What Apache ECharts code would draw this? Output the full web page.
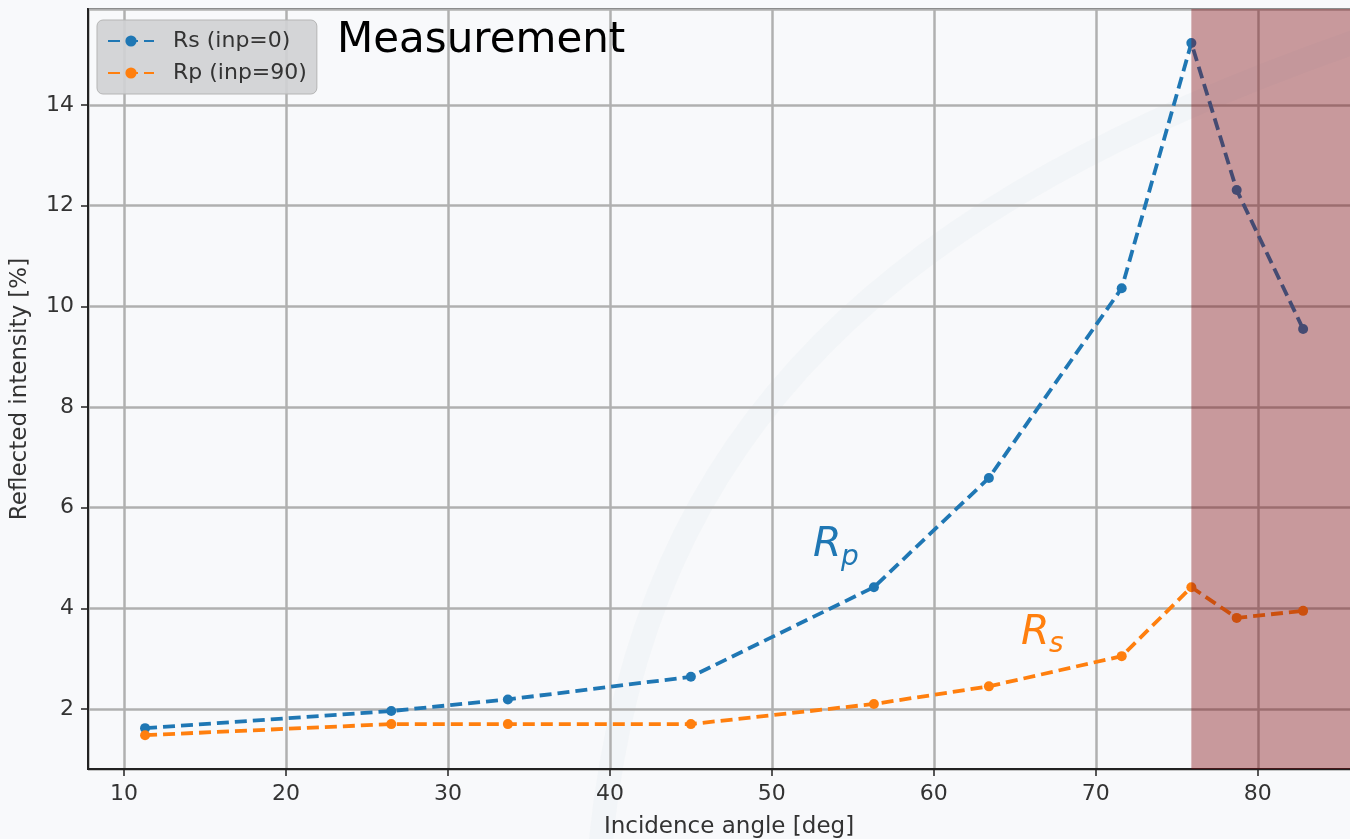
<!DOCTYPE html>
<html><head><meta charset="utf-8">
<style>html,body{margin:0;padding:0;background:#f8f9fb}#c{width:1350px;height:839px}</style>
<script src="https://cdn.jsdelivr.net/npm/echarts@6/dist/echarts.min.js"></script>
</head><body><div id="c"></div><script>
// ---- data ----
const angles = [11.3, 26.5, 33.7, 45.0, 56.3, 63.4, 71.6, 75.9, 78.7, 82.8];
const rsValues = [1.62, 1.96, 2.19, 2.64, 4.42, 6.59, 10.36, 15.23, 12.31, 9.55];
const rpValues = [1.48, 1.70, 1.70, 1.70, 2.10, 2.45, 3.05, 4.42, 3.81, 3.95];
const seriesNames = ['Rs (inp=0)', 'Rp (inp=90)'];
const spanRange = [75.9, 100];
const annotMain = ['R', 'R'];
const annotSub = ['p', 's'];
const annotX = [52.54, 65.38];
const annotY = [4.96, 3.23];
const titleText = 'Measurement';
const xName = 'Incidence angle [deg]';
const yName = 'Reflected intensity [%]';

const FF = 'DejaVu Sans';
const BLUE = '#1f77b4', ORANGE = '#ff7f0e';
const annotColors = [BLUE, ORANGE];
const X_MIN = 7.777, X_MAX = 86.93, Y_MIN = 0.808, Y_MAX = 15.907;

const chart = echarts.init(document.getElementById('c'), null, {renderer: 'canvas'});

function pairs(xs, ys) { return xs.map((x, i) => [x, ys[i]]); }

const lineSeries = (name, vals, color, z) => ({
  name, type: 'line', data: pairs(angles, vals), z,
  symbol: 'circle', symbolSize: 10,
  itemStyle: {color},
  lineStyle: {color, width: 3.8, type: [12, 6]},
  emphasis: {disabled: true}, animation: false
});

const axisCommon = {
  nameLocation: 'middle',
  nameTextStyle: {fontFamily: FF, fontSize: 23, color: '#333'},
  axisLine: {onZero: false, lineStyle: {color: '#222', width: 2}},
  axisTick: {show: true, length: 7, lineStyle: {color: '#222', width: 1.5}},
  axisLabel: {fontFamily: FF, fontSize: 22, color: '#333', margin: 14, showMinLabel: false, showMaxLabel: false},
  splitLine: {show: true, lineStyle: {color: '#b0b0b0', width: 2.5}}
};

chart.setOption({
  animation: false,
  backgroundColor: '#f8f9fb',
  grid: {left: 88, top: 9, width: 1282, bottom: 70, outerBoundsMode: 'none', containLabel: false,
    show: true, borderColor: '#222', borderWidth: 2, backgroundColor: 'transparent'},
  legend: {
    orient: 'vertical', left: 97, top: 20, padding: [10, 10, 10, 10],
    itemWidth: 46, itemHeight: 14, itemGap: 10,
    backgroundColor: 'rgba(208,209,212,0.92)', borderColor: '#b5b5b5', borderWidth: 1, borderRadius: 6,
    textStyle: {fontFamily: FF, fontSize: 22, color: '#333', padding: [0, 0, 0, 14]},
    data: seriesNames
  },
  xAxis: Object.assign({}, axisCommon, {
    type: 'value', min: X_MIN, max: X_MAX, splitNumber: 8, minInterval: 10, maxInterval: 10,
    name: xName, nameGap: 47
  }),
  yAxis: Object.assign({}, axisCommon, {
    type: 'value', min: Y_MIN, max: Y_MAX, splitNumber: 8, minInterval: 2, maxInterval: 2,
    name: yName, nameGap: 56, nameRotate: 90
  }),
  series: [
    lineSeries(seriesNames[0], rsValues, BLUE, 2),
    lineSeries(seriesNames[1], rpValues, ORANGE, 3),
    {
      name: 'span', type: 'custom', z: 20, silent: true,
      data: [spanRange],
      renderItem: function (params, api) {
        const p0 = api.coord([api.value(0), Y_MAX]);
        const p1 = api.coord([api.value(1), Y_MIN]);
        const cs = params.coordSys;
        return {
          type: 'rect',
          shape: echarts.graphic.clipRectByRect(
            {x: p0[0], y: p0[1], width: p1[0] - p0[0], height: p1[1] - p0[1]},
            {x: cs.x, y: cs.y, width: cs.width, height: cs.height}),
          style: {fill: 'rgba(128,10,15,0.4)'}
        };
      }
    }
  ]
});

// annotations positioned from data coordinates
const graphics = [
  {type: 'bezierCurve', z: -1, silent: true,
    shape: {x1: 600, y1: 850, cpx1: 640, cpy1: 420, cpx2: 900, cpy2: 200, x2: 1360, y2: 40},
    style: {stroke: 'rgba(225,231,239,0.22)', lineWidth: 24, fill: null}},
  {type: 'text', x: 337, y: 56 - 0.346 * 42, z: 100,
    style: {text: titleText, fontFamily: FF, fontSize: 42, fill: '#000', verticalAlign: 'middle', align: 'left'}}
];
for (let i = 0; i < annotMain.length; i++) {
  const p = chart.convertToPixel({gridIndex: 0}, [annotX[i], annotY[i]]);
  graphics.push({
    type: 'text', x: p[0], y: p[1] - 0.346 * 41, z: 100,
    style: {text: annotMain[i], fontFamily: FF, fontStyle: 'italic', fontSize: 41, fill: annotColors[i], verticalAlign: 'middle', align: 'left'}
  });
  graphics.push({
    type: 'text', x: p[0] + 28, y: p[1] + 7 - 0.346 * 28, z: 100,
    style: {text: annotSub[i], fontFamily: FF, fontStyle: 'italic', fontSize: 28, fill: annotColors[i], verticalAlign: 'middle', align: 'left'}
  });
}
chart.setOption({graphic: graphics});
</script></body></html>
